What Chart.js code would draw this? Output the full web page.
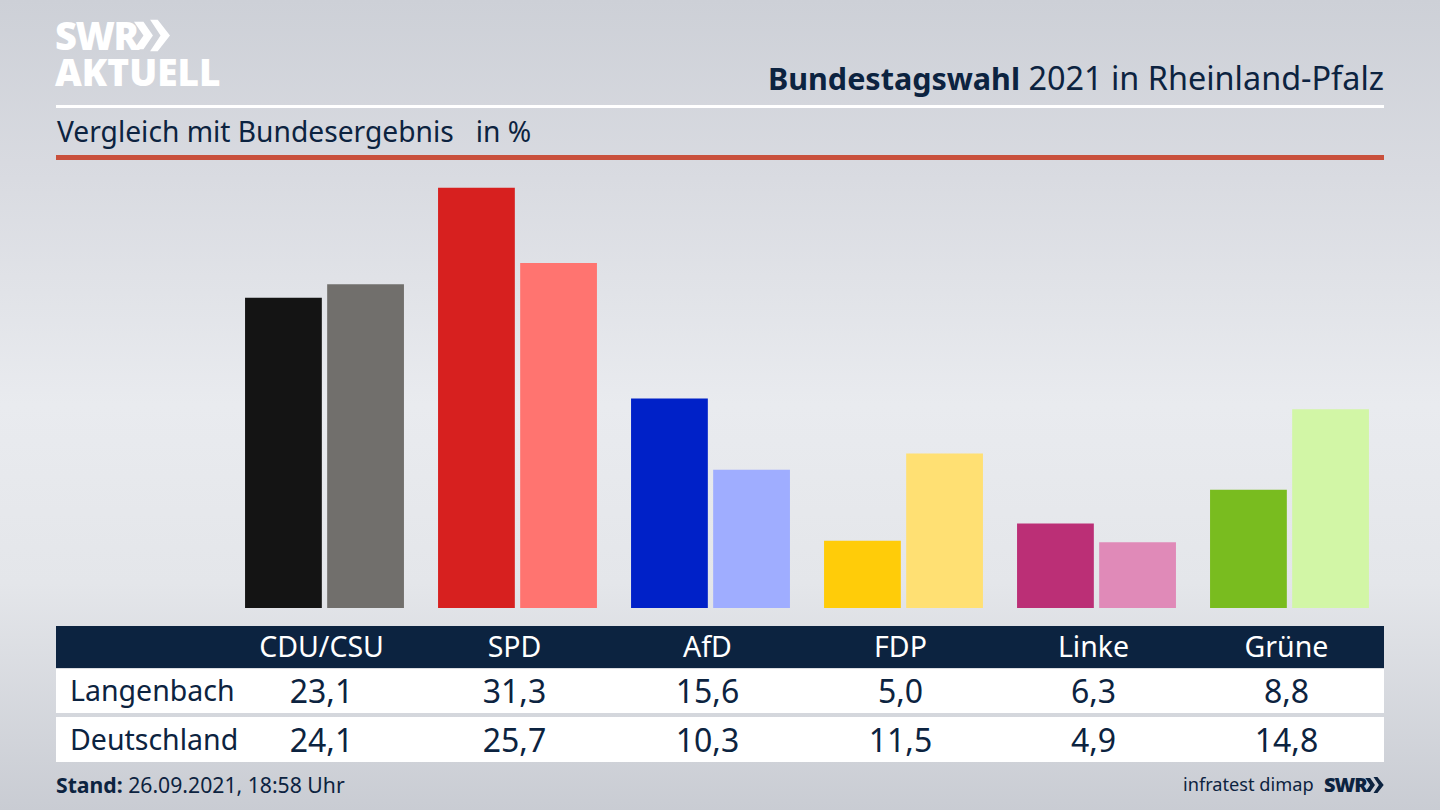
<!DOCTYPE html>
<html lang="de">
<head>
<meta charset="utf-8">
<title>Bundestagswahl 2021 in Rheinland-Pfalz</title>
<script src="https://cdn.jsdelivr.net/npm/chart.js@4"></script>
<style>
  html, body { margin: 0; padding: 0; }
  body {
    width: 1440px; height: 810px; overflow: hidden; position: relative;
    font-family: "Noto Sans", sans-serif; color: #0c2340;
    background: linear-gradient(180deg, #cdd0d7 0%, #d9dbe1 22%, #e9ebef 50%, #e4e6ea 72%, #c9ccd3 100%);
  }
  .abs { position: absolute; white-space: nowrap; line-height: 1; }
  .logo { color: #fff; font-family: "Open Sans", sans-serif; font-weight: 800; }
  #chart { position: absolute; left: 228px; top: 138px; }
  .band { position: absolute; left: 56px; width: 1328px; }
  .cell { position: absolute; transform: translateX(-50%); white-space: nowrap; line-height: 1; font-size: 28.5px; }
  .value { font-size: 32px; }
</style>
</head>
<body>
<div class="abs logo" style="left:55px;top:16px;font-size:38px;letter-spacing:-1.5px">SWR</div>
<svg class="abs" style="left:134px;top:19px" width="36" height="33" viewBox="0 0 38 33">
  <path d="M0 2h10l10 14.500L10 31H0l10-14.500zM17 0h8l13 16.500L25 33h-8l11-16.500z" fill="#fff"/>
</svg>
<div class="abs logo" style="left:55px;top:53px;font-size:37px;letter-spacing:0">AKTUELL</div>

<div class="abs" id="title" style="right:56px;top:61px;font-size:32.400px"><b style="font-size:30.500px">Bundestagswahl</b> 2021 in Rheinland-Pfalz</div>
<div class="band" style="top:105px;height:3px;background:#fff"></div>
<div class="abs" style="left:57px;top:117px;font-size:28.200px">Vergleich mit Bundesergebnis&nbsp;&nbsp; in %</div>
<div class="band" style="top:155px;height:5px;background:#c9503c"></div>

<canvas id="chart" width="1158" height="470"></canvas>

<div class="band" style="top:626px;height:42px;background:#0c2340"></div>
<div class="band" style="top:669px;height:44px;background:#fff"></div>
<div class="band" style="top:717px;height:45px;background:#fff"></div>
<div id="table"></div>

<div class="abs" style="left:56px;top:774px;font-size:21.200px"><b>Stand:</b> 26.09.2021, 18:58 Uhr</div>
<div class="abs" style="left:1183px;top:775px;font-size:18.200px">infratest dimap</div>
<div class="abs" style="left:1324px;top:775px;font-size:20px;font-weight:800;font-family:'Open Sans',sans-serif;letter-spacing:-1px">SWR</div>
<svg class="abs" style="left:1365px;top:777px" width="19" height="16" viewBox="0 0 38 33">
  <path d="M0 2h10l10 14.500L10 31H0l10-14.500zM17 0h8l13 16.500L25 33h-8l11-16.500z" fill="#0c2340"/>
</svg>

<script>
const parties = ['CDU/CSU', 'SPD', 'AfD', 'FDP', 'Linke', 'Grüne'];
const langenbach = [23.1, 31.3, 15.6, 5.0, 6.3, 8.8];
const deutschland = [24.1, 25.7, 10.3, 11.5, 4.9, 14.8];
const langenbachColors = ['#141414', '#d7201f', '#0021c8', '#ffcc09', '#bb2f76', '#79bc1f'];
const deutschlandColors = ['#716f6c', '#ff7470', '#9fadff', '#ffe073', '#e08ab8', '#d2f6a6'];

new Chart(document.getElementById('chart'), {
    type: 'bar',
    data: {
        labels: parties,
        datasets: [
            { label: 'Langenbach', data: langenbach, backgroundColor: langenbachColors },
            { label: 'Deutschland', data: deutschland, backgroundColor: deutschlandColors }
        ]
    },
    options: {
        responsive: false,
        animation: false,
        devicePixelRatio: 1,
        layout: { padding: 0 },
        datasets: { bar: { categoryPercentage: 0.851, barPercentage: 0.935 } },
        plugins: { legend: { display: false }, tooltip: { enabled: false } },
        scales: {
            x: { display: false },
            y: { display: false, min: 0, max: 35 }
        }
    }
});

// Table under the chart, same order as the bars
const table = document.getElementById('table');
const addCell = (text, x, y, color, className) => {
    const el = document.createElement('div');
    el.className = 'cell ' + (className || '');
    el.textContent = text;
    el.style.left = x + 'px';
    el.style.top = y + 'px';
    el.style.color = color;
    table.appendChild(el);
};
const formatValue = v => v.toFixed(1).replace('.', ',');

['Langenbach', 'Deutschland'].forEach((name, row) => {
    const el = document.createElement('div');
    el.className = 'abs';
    el.textContent = name;
    el.style.cssText = `left:70px;top:${676 + row * 49}px;font-size:28.500px`;
    table.appendChild(el);
});
parties.forEach((name, i) => {
    const x = 321.5 + i * 193;
    addCell(name, x, 632, '#fff');
    addCell(formatValue(langenbach[i]), x, 675, '#0c2340', 'value');
    addCell(formatValue(deutschland[i]), x, 724, '#0c2340', 'value');
});
</script>
</body>
</html>
